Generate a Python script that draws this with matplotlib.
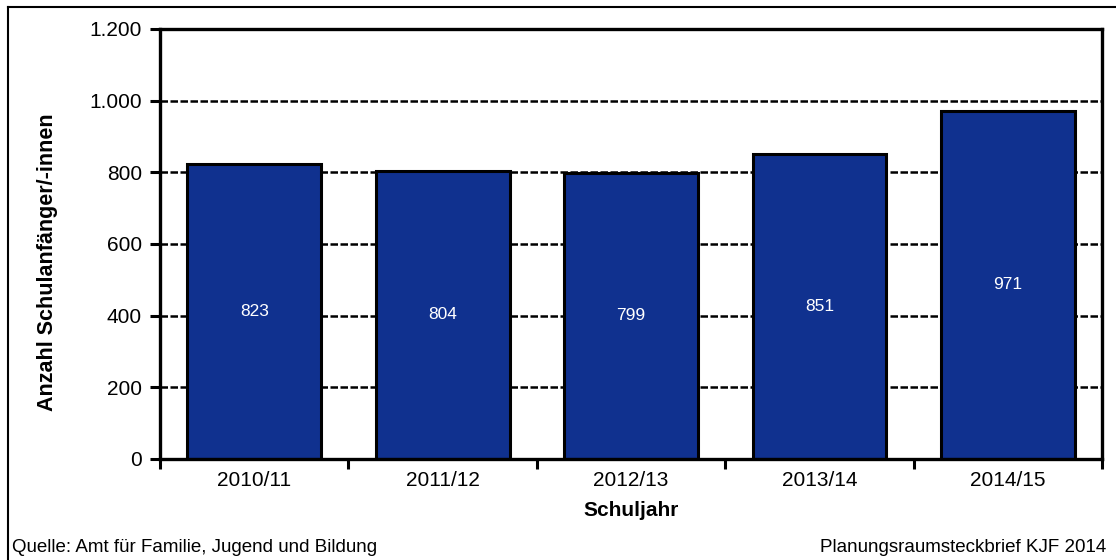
import matplotlib.pyplot as plt
import numpy as np
from matplotlib.lines import Line2D

plt.rcParams['font.family'] = ['Liberation Sans', 'DejaVu Sans']

# Daten
jahre = ['2010/11', '2011/12', '2012/13', '2013/14', '2014/15']
anzahl = [823, 804, 799, 851, 971]
yticks = [0, 200, 400, 600, 800, 1000, 1200]
ytick_labels = ['0', '200', '400', '600', '800', '1.000', '1.200']

bar_color = '#10318F'

fig = plt.figure(figsize=(11.16, 5.6), dpi=100)
ax = fig.add_axes([0.1434, 0.1804, 0.8441, 0.7679])

x = np.arange(len(jahre))
bars = ax.bar(x, anzahl, width=0.71, color=bar_color, edgecolor='black',
              linewidth=2.2, zorder=3)

ax.set_xlim(-0.5, len(jahre) - 0.5)
ax.set_ylim(0, 1200)
ax.set_yticks(yticks)
ax.set_yticklabels(ytick_labels, fontsize=15)

# x-Ticks an den Kategoriegrenzen, Beschriftung mittig
ax.set_xticks(np.arange(len(jahre) + 1) - 0.5)
ax.set_xticklabels([])
ax.set_xticks(x, minor=True)
ax.set_xticklabels(jahre, minor=True, fontsize=15)
ax.tick_params(axis='x', which='minor', length=0, pad=9)
ax.tick_params(axis='x', which='major', length=7, width=2.2, direction='out')
ax.tick_params(axis='y', length=7, width=2.2, direction='out', pad=6)

ax.grid(axis='y', color='black', linestyle=(0, (3, 1)), linewidth=1.8, zorder=1)

for s in ax.spines.values():
    s.set_linewidth(2.4)
    s.set_zorder(4)

# Werte in den Balken
for xi, v in zip(x, anzahl):
    ax.text(xi, v / 2, str(v), color='white', ha='center', va='center',
            fontsize=12.5, zorder=5)

ax.set_ylabel('Anzahl Schulanfänger/-innen', fontsize=15.5, fontweight='bold')
ax.yaxis.set_label_coords(-0.108, 0.458)
ax.set_xlabel('Schuljahr', fontsize=15, fontweight='bold')
ax.xaxis.set_label_coords(0.5, -0.098)

# Fußzeile
fig.text(12 / 1116, 1 - 548 / 560, 'Quelle: Amt für Familie, Jugend und Bildung',
         fontsize=13.5, ha='left', va='center')
fig.text(1106 / 1116, 1 - 548 / 560, 'Planungsraumsteckbrief KJF 2014',
         fontsize=13.5, ha='right', va='center')

# äußerer Rahmen (oben und links)
fig.add_artist(Line2D([8 / 1116, 1], [1 - 7 / 560, 1 - 7 / 560],
                      color='black', linewidth=1.5, transform=fig.transFigure))
fig.add_artist(Line2D([8 / 1116, 8 / 1116], [0, 1 - 7 / 560],
                      color='black', linewidth=1.5, transform=fig.transFigure))

fig.savefig('out.png', dpi=100)
plt.close(fig)
